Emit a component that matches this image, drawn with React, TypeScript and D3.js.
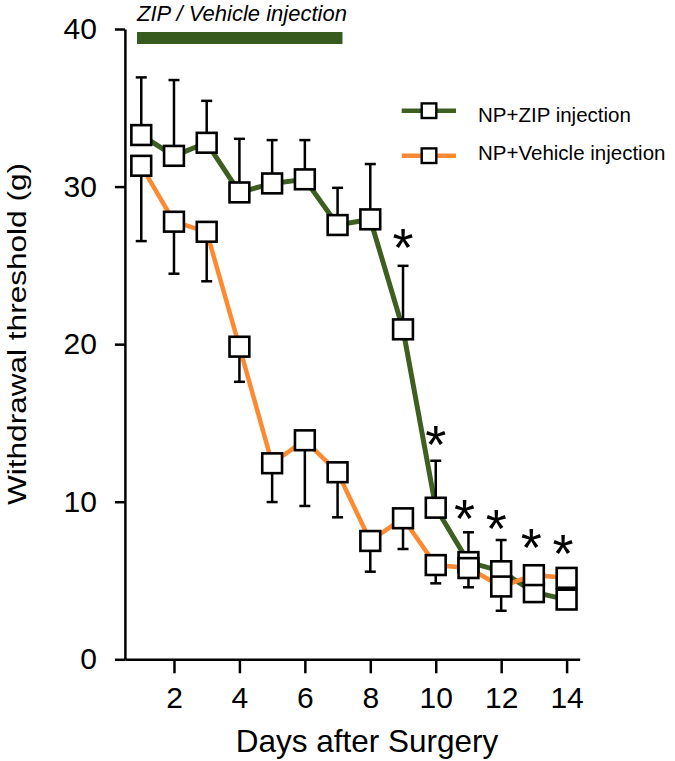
import * as d3 from "d3"
import { useEffect, useRef } from "react"

// days after surgery
const days = [1, 2, 3, 4, 5, 6, 7, 8, 9, 10, 11, 12, 13, 14]

// NP+ZIP injection: mean and SEM (error bar drawn upward)
const zipMean = [33.27, 31.95, 32.78, 29.63, 30.2, 30.46, 27.56, 27.92, 20.94, 9.62, 6.17, 5.59, 4.26, 3.79]
const zipSem = [3.66, 4.81, 2.66, 3.4, 2.75, 2.49, 2.36, 3.51, 4.03, 2.98, 1.89, 1.98, 0.3, 0.3]

// NP+Vehicle injection: mean and SEM (error bar drawn downward)
const vehMean = [31.32, 27.77, 27.13, 19.84, 12.44, 13.9, 11.87, 7.51, 8.95, 5.98, 5.79, 4.62, 5.34, 5.17]
const vehSem = [4.78, 3.3, 3.14, 2.23, 2.46, 4.17, 2.86, 1.95, 1.95, 1.16, 1.22, 1.54, 0.3, 0.3]

const xTicks = [2, 4, 6, 8, 10, 12, 14]
const yTicks = [0, 10, 20, 30, 40]

// injection period bar (days)
const injectionPeriod = [0.87, 7.15]

// significance marks
const sigDays = [9, 10, 10.88, 11.85, 12.92, 13.89]
const sigLevels = [26.92, 14.4, 9.76, 9.1, 7.87, 7.5]

const seriesNames = ["NP+ZIP injection", "NP+Vehicle injection"]
const seriesColors = ["#3d5f1f", "#fb8a33"]
const barColor = "#375a1e"

const FONT = "'Liberation Sans', Arial, sans-serif"

export default function App() {
  const svgRef = useRef<SVGSVGElement>(null)

  useEffect(() => {
    if (!svgRef.current) return
    const root = d3.select(svgRef.current)
    root.selectAll("*").remove()

    const x = d3.scaleLinear().domain([0.5, 14.4]).range([124.9, 579.7])
    const y = d3.scaleLinear().domain([0, 40]).range([659.3, 29])

    const svg = root.append("g")

    // title + injection bar
    svg
      .append("text")
      .attr("x", 137)
      .attr("y", 20.5)
      .style("font-family", FONT)
      .style("font-style", "italic")
      .style("font-size", "22px")
      .text("ZIP / Vehicle injection")

    svg
      .append("rect")
      .attr("x", x(injectionPeriod[0]))
      .attr("y", 32)
      .attr("width", x(injectionPeriod[1]) - x(injectionPeriod[0]))
      .attr("height", 12)
      .attr("fill", barColor)

    // Y axis
    const yAxis = svg
      .append("g")
      .attr("transform", `translate(${x(0.5)},0)`)
      .call(d3.axisLeft(y).tickValues(yTicks).tickSize(10).tickSizeOuter(0).tickPadding(18))
    yAxis.select(".domain").attr("stroke-width", 2.5)
    yAxis.selectAll(".tick line").attr("stroke-width", 2.5)
    yAxis
      .selectAll("text")
      .style("font-family", FONT)
      .style("font-size", "30px")
      .attr("fill", "#000")

    // X axis
    const xAxis = svg
      .append("g")
      .attr("transform", `translate(0,${y(0)})`)
      .call(d3.axisBottom(x).tickValues(xTicks).tickSize(14).tickSizeOuter(0).tickPadding(13))
    xAxis.select(".domain").attr("stroke-width", 2.5)
    xAxis.selectAll(".tick line").attr("stroke-width", 2.5)
    xAxis
      .selectAll("text")
      .style("font-family", FONT)
      .style("font-size", "30px")
      .attr("fill", "#000")

    // axis labels
    svg
      .append("text")
      .attr("text-anchor", "middle")
      .attr("x", x(7.9))
      .attr("y", 752)
      .style("font-family", FONT)
      .style("font-size", "31.5px")
      .text("Days after Surgery")

    svg
      .append("text")
      .attr("text-anchor", "middle")
      .attr("transform", `translate(25.5,334)rotate(-90)`)
      .attr("textLength", 342)
      .attr("lengthAdjust", "spacingAndGlyphs")
      .style("font-family", FONT)
      .style("font-size", "26px")
      .text("Withdrawal threshold (g)")

    const zip = days.map((d, i) => ({ day: d, mean: zipMean[i], sem: zipSem[i] }))
    const veh = days.map((d, i) => ({ day: d, mean: vehMean[i], sem: vehSem[i] }))

    const line = d3
      .line<{ day: number; mean: number }>()
      .x((d) => x(d.day))
      .y((d) => y(d.mean))

    svg
      .append("path")
      .datum(zip)
      .attr("fill", "none")
      .attr("stroke", seriesColors[0])
      .attr("stroke-width", 5)
      .attr("d", line)

    svg
      .append("path")
      .datum(veh)
      .attr("fill", "none")
      .attr("stroke", seriesColors[1])
      .attr("stroke-width", 4.5)
      .attr("d", line)

    // error bars
    const cap = 5.5
    const drawErr = (data: typeof zip, dir: number) => {
      const g = svg.append("g").attr("stroke", "#000").attr("stroke-width", 2.5)
      data.forEach((d) => {
        const y0 = y(d.mean)
        const y1 = y(d.mean + dir * d.sem)
        g.append("line").attr("x1", x(d.day)).attr("x2", x(d.day)).attr("y1", y0).attr("y2", y1)
        g.append("line")
          .attr("x1", x(d.day) - cap)
          .attr("x2", x(d.day) + cap)
          .attr("y1", y1)
          .attr("y2", y1)
      })
    }
    drawErr(zip, 1)
    drawErr(veh, -1)

    // markers
    const side = 19.8
    const drawMarkers = (data: typeof zip) => {
      svg
        .append("g")
        .selectAll("rect")
        .data(data)
        .join("rect")
        .attr("x", (d) => x(d.day) - side / 2)
        .attr("y", (d) => y(d.mean) - side / 2)
        .attr("width", side)
        .attr("height", side)
        .attr("fill", "#fff")
        .attr("stroke", "#000")
        .attr("stroke-width", 2.6)
    }
    drawMarkers(zip)
    drawMarkers(veh)

    // asterisks
    const starSize = 54
    svg
      .append("g")
      .selectAll("text")
      .data(sigDays)
      .join("text")
      .attr("text-anchor", "middle")
      .attr("x", (d) => x(d))
      .attr("y", (d, i) => y(sigLevels[i]) + starSize * 0.575)
      .style("font-family", FONT)
      .style("font-size", `${starSize}px`)
      .text("*")

    // legend
    const legendRows = [
      { lineY: 110.7, textY: 121.7 },
      { lineY: 155.7, textY: 160 },
    ]
    const legend = svg
      .selectAll(".legend")
      .data(seriesNames)
      .join("g")
      .attr("class", "legend")

    legend
      .append("line")
      .attr("x1", 401.7)
      .attr("x2", 456)
      .attr("y1", (d, i) => legendRows[i].lineY)
      .attr("y2", (d, i) => legendRows[i].lineY)
      .attr("stroke", (d, i) => seriesColors[i])
      .attr("stroke-width", 4.5)

    legend
      .append("rect")
      .attr("x", 429 - 7.3)
      .attr("y", (d, i) => legendRows[i].lineY - 7.3)
      .attr("width", 14.6)
      .attr("height", 14.6)
      .attr("fill", "#fff")
      .attr("stroke", "#000")
      .attr("stroke-width", 2.4)

    legend
      .append("text")
      .attr("x", 478)
      .attr("y", (d, i) => legendRows[i].textY)
      .style("font-family", FONT)
      .style("font-size", "20.5px")
      .text((d) => d)
  }, [])

  return (
    <svg
      ref={svgRef}
      width={675}
      height={761}
      style={{ position: "absolute", left: 0, top: 0, background: "#fff" }}
    />
  )
}
